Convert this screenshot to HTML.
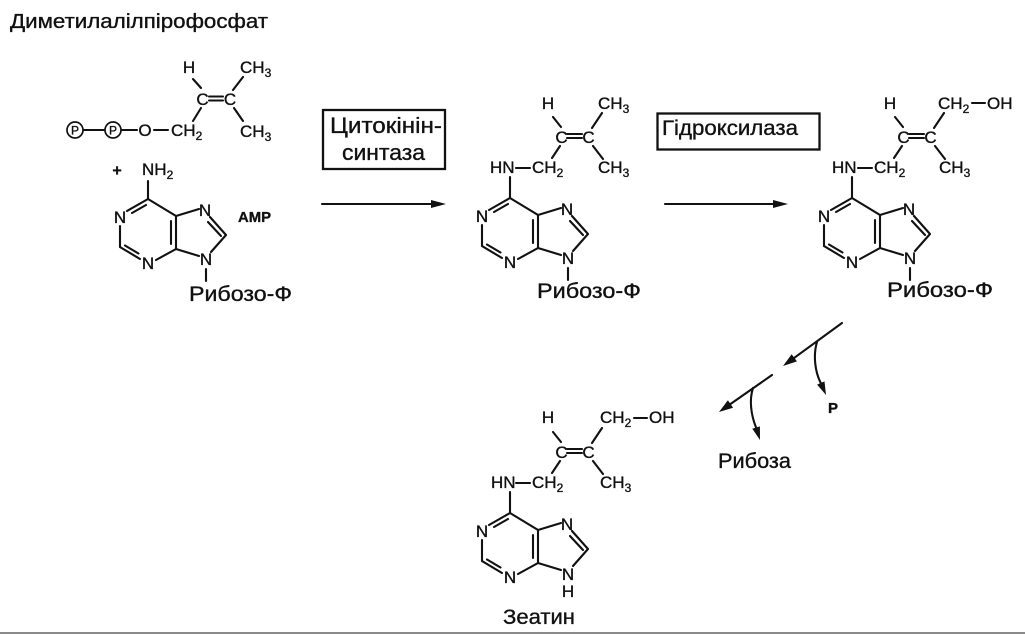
<!DOCTYPE html>
<html><head><meta charset="utf-8">
<style>
html,body{margin:0;padding:0;background:#fff;}
svg{display:block;}
text{font-family:"Liberation Sans",Arial,sans-serif;fill:#111;stroke:#111;stroke-width:0.35px;}
.l{stroke:#111;stroke-width:2.1;fill:none;stroke-linecap:round;}
.c{font-size:17px;}
.m{text-anchor:middle;}
.big{font-size:21px;}
polygon{fill:#111;}
</style></head><body>
<svg width="1025" height="634" viewBox="0 0 1025 634">
<rect x="0" y="0" width="1025" height="634" fill="#fff"/>

<!-- Title -->
<text x="10" y="28" font-size="20" textLength="258" lengthAdjust="spacingAndGlyphs">Диметилалілпірофосфат</text>

<!-- ===== AMP + DMAPP ===== -->
<text class="c m" x="189" y="73">H</text>
<text class="c" x="240" y="73">CH<tspan font-size="12" dy="4">3</tspan></text>
<path class="l" d="M193,79 L201,88 M233,90 L243,77 M201,108 L193,121 M234,108 L243,121 M209,96.5 L223,96.5 M209,100.5 L223,100.5 M84,130 L104,130 M122,130 L137,130 M154,130 L168,130 M148,181 L148,199"/>
<text class="c m" x="202.5" y="105">C</text>
<text class="c m" x="230" y="105">C</text>
<circle cx="75" cy="130" r="8" fill="none" stroke="#111" stroke-width="1.7"/>
<circle cx="113" cy="130" r="8" fill="none" stroke="#111" stroke-width="1.7"/>
<text x="75" y="134.5" font-size="12" text-anchor="middle">P</text>
<text x="113" y="134.5" font-size="12" text-anchor="middle">P</text>
<text class="c m" x="145" y="136">O</text>
<text class="c" x="171" y="136">CH<tspan font-size="12" dy="4">2</tspan></text>
<text class="c" x="240" y="137">CH<tspan font-size="12" dy="4">3</tspan></text>
<text x="117" y="175.5" font-size="16" font-weight="bold" text-anchor="middle">+</text>
<text class="c" x="142" y="175">NH<tspan font-size="12" dy="4">2</tspan></text>
<text x="238" y="222" font-size="15" font-weight="bold" textLength="33" lengthAdjust="spacingAndGlyphs">AMP</text>

<g transform="translate(148,199)">
<path class="l" d="M0,0 L-21,12 M-2,6 L-16,14 M-28,27 L-28,48 L-8,60 M-23,46.5 L-9.5,54.5 M8,61 L28,50 L28,17 L0,0 M23,22 L23,45 M28,17 L51,10 M62,18 L78,36 M60,23 L73,37 M78,36 L63,53 M28,50 L51,57 M58,70 L58,82"/>
<text class="c m" x="-28" y="24">N</text>
<text class="c m" x="0" y="70">N</text>
<text class="c m" x="57" y="17">N</text>
<text class="c m" x="58" y="66">N</text>
</g>
<text class="big" x="189" y="301" textLength="103" lengthAdjust="spacingAndGlyphs">Рибозо-Ф</text>

<!-- Arrow 1 with box -->
<rect x="323" y="110" width="122" height="59" fill="none" stroke="#111" stroke-width="2.3"/>
<text x="330" y="133" font-size="22" textLength="112" lengthAdjust="spacingAndGlyphs">Цитокінін-</text>
<text x="342" y="160" font-size="22" textLength="83" lengthAdjust="spacingAndGlyphs">синтаза</text>
<path class="l" d="M322,204 L433,204"/>
<polygon points="446,204 431,200 431,208"/>

<!-- ===== Middle structure ===== -->
<g transform="translate(510,198)">
<text class="c m" x="38" y="-89">H</text>
<path class="l" d="M43,-81 L51,-71 M82,-70 L92,-85 M50,-52 L42,-40 M83,-52 L93,-39 M6,-30 L20,-30 M0,-21 L0,0 M57,-64 L72,-64 M57,-60 L72,-60"/>
<text class="c m" x="51.5" y="-55">C</text>
<text class="c m" x="78.5" y="-55">C</text>
<text class="c" x="-20" y="-25">HN</text>
<text class="c" x="22" y="-25">CH<tspan font-size="12" dy="4">2</tspan></text>
<text class="c" x="88" y="-25">CH<tspan font-size="12" dy="4">3</tspan></text>
<text class="c" x="88" y="-89">CH<tspan font-size="12" dy="4">3</tspan></text>
<path class="l" d="M0,0 L-21,12 M-2,6 L-16,14 M-28,27 L-28,48 L-8,60 M-23,46.5 L-9.5,54.5 M8,61 L28,50 L28,17 L0,0 M23,22 L23,45 M28,17 L51,10 M62,18 L78,36 M60,23 L73,37 M78,36 L63,53 M28,50 L51,57 M58,70 L58,82"/>
<text class="c m" x="-28" y="24">N</text>
<text class="c m" x="0" y="70">N</text>
<text class="c m" x="57" y="17">N</text>
<text class="c m" x="58" y="66">N</text>
</g>
<text class="big" x="537" y="298" textLength="104" lengthAdjust="spacingAndGlyphs">Рибозо-Ф</text>

<!-- Arrow 2 with box -->
<rect x="657.5" y="113.5" width="162" height="36" fill="none" stroke="#111" stroke-width="2.3"/>
<text x="662" y="135" font-size="21" textLength="136" lengthAdjust="spacingAndGlyphs">Гідроксилаза</text>
<path class="l" d="M665,204 L775,204"/>
<polygon points="788,204 773,200 773,208"/>

<!-- ===== Right structure ===== -->
<g transform="translate(852,198)">
<text class="c m" x="38" y="-89">H</text>
<path class="l" d="M43,-81 L51,-71 M82,-70 L92,-85 M50,-52 L42,-40 M83,-52 L93,-39 M6,-30 L20,-30 M0,-21 L0,0 M57,-64 L72,-64 M57,-60 L72,-60 M120,-95 L133,-95"/>
<text class="c m" x="51.5" y="-55">C</text>
<text class="c m" x="78.5" y="-55">C</text>
<text class="c" x="-20" y="-25">HN</text>
<text class="c" x="22" y="-25">CH<tspan font-size="12" dy="4">2</tspan></text>
<text class="c" x="87" y="-25">CH<tspan font-size="12" dy="4">3</tspan></text>
<text class="c" x="86" y="-89">CH<tspan font-size="12" dy="4">2</tspan></text>
<text class="c" x="135" y="-89">OH</text>
<path class="l" d="M0,0 L-21,12 M-2,6 L-16,14 M-28,27 L-28,48 L-8,60 M-23,46.5 L-9.5,54.5 M8,61 L28,50 L28,17 L0,0 M23,22 L23,45 M28,17 L51,10 M62,18 L78,36 M60,23 L73,37 M78,36 L63,53 M28,50 L51,57 M58,70 L58,82"/>
<text class="c m" x="-28" y="24">N</text>
<text class="c m" x="0" y="70">N</text>
<text class="c m" x="57" y="17">N</text>
<text class="c m" x="58" y="66">N</text>
</g>
<text class="big" x="887" y="297" textLength="106" lengthAdjust="spacingAndGlyphs">Рибозо-Ф</text>

<!-- ===== Diagonal arrows ===== -->
<path class="l" d="M842,323 L794.3,357.8"/>
<polygon points="783,366 796.95,361.4 791.65,354.2"/>
<path class="l" d="M817,342 C813,355 815,372 820.8,383"/>
<polygon points="826,395 824.5,381.4 817.1,384.6"/>
<text x="828" y="413" font-size="15" font-weight="bold">P</text>

<path class="l" d="M772,375 L730.5,404"/>
<polygon points="719,412 733.1,407.7 727.9,400.3"/>
<path class="l" d="M753,388 C749,400 751,415 756.1,427.6"/>
<polygon points="760,440 759.9,426.4 752.3,428.8"/>
<text class="big" x="718" y="468" textLength="73" lengthAdjust="spacingAndGlyphs">Рибоза</text>

<!-- ===== Zeatin ===== -->
<g transform="translate(510,513)">
<text class="c m" x="38" y="-90">H</text>
<path class="l" d="M43,-81 L51,-71 M82,-70 L92,-85 M50,-52 L42,-40 M83,-52 L93,-39 M6,-30 L20,-30 M0,-21 L0,0 M57,-64 L72,-64 M57,-60 L72,-60 M124,-95 L137,-95"/>
<text class="c m" x="51.5" y="-55">C</text>
<text class="c m" x="78.5" y="-55">C</text>
<text class="c" x="-19" y="-25">HN</text>
<text class="c" x="22" y="-25">CH<tspan font-size="12" dy="4">2</tspan></text>
<text class="c" x="90" y="-25">CH<tspan font-size="12" dy="4">3</tspan></text>
<text class="c" x="90" y="-90">CH<tspan font-size="12" dy="4">2</tspan></text>
<text class="c" x="139" y="-90">OH</text>
<path class="l" d="M0,0 L-21,12 M-2,6 L-16,14 M-28,27 L-28,48 L-8,60 M-23,46.5 L-9.5,54.5 M8,61 L28,50 L28,17 L0,0 M23,22 L23,45 M28,17 L51,10 M62,18 L78,36 M60,23 L73,37 M78,36 L63,53 M28,50 L51,57"/>
<text class="c m" x="-28" y="24">N</text>
<text class="c m" x="0" y="70">N</text>
<text class="c m" x="57" y="17">N</text>
<text class="c m" x="58" y="67">N</text>
<text class="c m" x="58" y="84">H</text>
</g>
<text class="big" x="503" y="624" textLength="72" lengthAdjust="spacingAndGlyphs">Зеатин</text>

<!-- bottom rule -->
<rect x="0" y="632" width="1025" height="2" fill="#8a8a8a"/>
</svg>
</body></html>
